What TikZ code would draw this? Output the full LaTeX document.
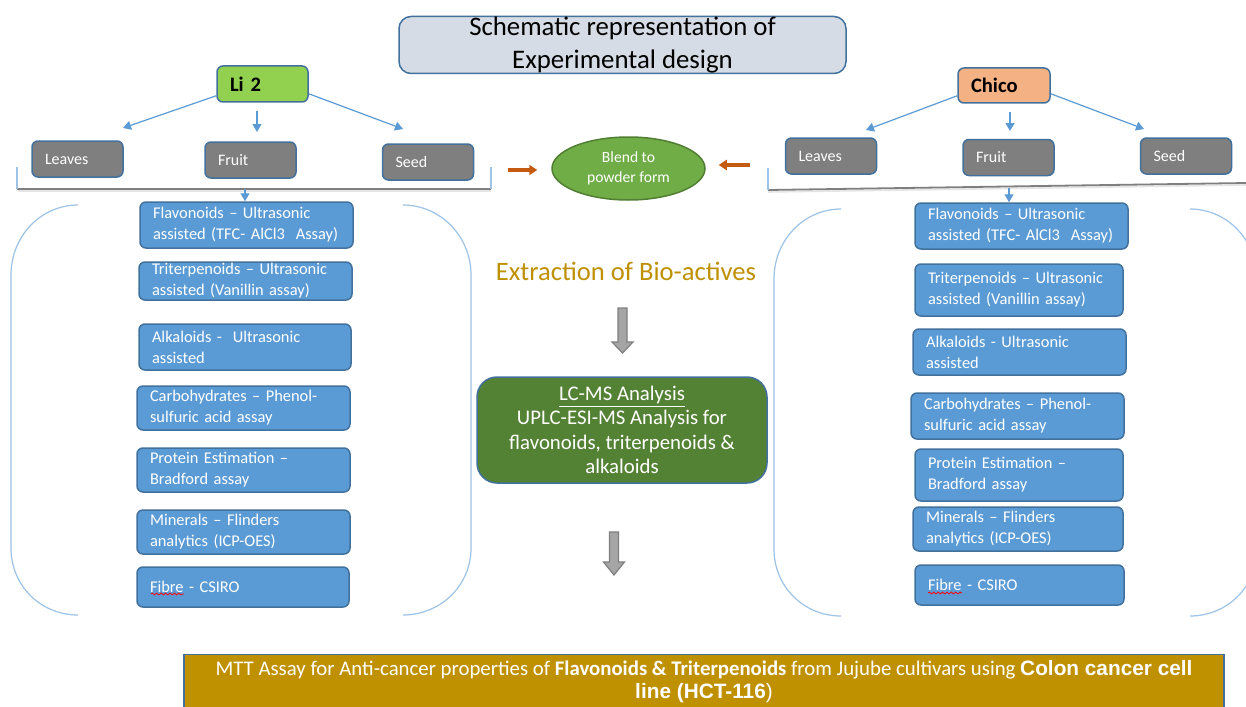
\documentclass[tikz,border=0pt]{standalone}
\usepackage{fontspec}
\setmainfont{Carlito}
\newfontfamily\arialf{Liberation Sans}
\usetikzlibrary{arrows.meta,shapes.geometric,decorations.pathmorphing}
\definecolor{bdr}{HTML}{41719C}
\definecolor{boxblue}{HTML}{5B9BD5}
\definecolor{boxgray}{HTML}{7F7F7F}
\definecolor{ltblue}{HTML}{9DC3E6}
\definecolor{arrblue}{HTML}{5B9BD5}
\definecolor{orng}{HTML}{C55A11}
\definecolor{gold}{HTML}{BF9000}
\definecolor{lcgreen}{HTML}{548235}
\definecolor{blendgreen}{HTML}{70AD47}
\definecolor{blendborder}{HTML}{507E32}
\definecolor{ligreen}{HTML}{92D050}
\definecolor{chicoorange}{HTML}{F4B183}
\definecolor{titlefill}{HTML}{D6DCE5}
\definecolor{blockgray}{HTML}{A5A5A5}
\begin{document}
\begin{tikzpicture}[x=0.5pt,y=-0.5pt,
  varbox/.style={draw=bdr, line width=0.75pt, rounded corners=3pt, align=left, inner xsep=6.5pt, inner ysep=0pt},
  graybox/.style={varbox, fill=boxgray, text=white, text width=32.5pt, minimum height=18pt, font=\fontsize{8}{10}\selectfont},
  bluebox/.style 2 args={varbox, fill=boxblue, text=white, text width=#1, minimum height=#2, font=\fontsize{8.2}{10.5}\selectfont},
  barrow/.style={draw=arrblue, line width=0.6pt, -{Triangle[length=4pt,width=4.5pt]}},
  oarrow/.style={draw=orng, line width=1.9pt, -{Triangle[length=4pt,width=5pt]}},
  ltline/.style={draw=ltblue, line width=0.6pt},
  grayline/.style={draw=boxgray, line width=0.9pt},
  shadowline/.style={draw=black!10, line width=0.8pt},
  garrow/.style={draw=boxgray, fill=blockgray, line width=0.6pt},
  squiggle/.style={draw=red, line width=0.4pt, decorate, decoration={snake, amplitude=0.45pt, segment length=2.2pt}}
]
\clip (0,0) rectangle (1246,706);
\fill[white] (0,0) rectangle (1246,706);

% title
\node[draw=bdr, fill=titlefill, line width=0.75pt, rounded corners=6pt, minimum width=223.5pt, minimum height=28.5pt, align=center, inner sep=0pt, font=\fontsize{13.4}{16.5}\selectfont] (title) at (622.5,45) {Schematic representation of\\Experimental design};

% cultivars
\node[varbox, fill=ligreen, text width=32.5pt, minimum height=18pt, font=\bfseries\fontsize{10.3}{12}\selectfont] (li2) at (262.5,84) {Li 2};
\node[varbox, fill=chicoorange, text width=33pt, minimum height=17.5pt, font=\bfseries\fontsize{10.3}{12}\selectfont] (chico) at (1004,85.5) {Chico};

% plant parts
\node[graybox] (lleaves) at (77.5,159) {Leaves};
\node[graybox] (lfruit) at (250.5,160) {Fruit};
\node[graybox] (lseed) at (428,162) {Seed};
\node[graybox] (rleaves) at (831,156) {Leaves};
\node[graybox] (rfruit) at (1008.5,157.5) {Fruit};
\node[graybox] (rseed) at (1186,156) {Seed};

% arrows from cultivars
\coordinate (la1) at (123,128);
\coordinate (la2s) at (257,111);
\coordinate (la2) at (257,132);
\coordinate (la3) at (403,129);
\draw[barrow] ([yshift=3.5pt]li2.south west) -- (la1);
\draw[barrow] (la2s) -- (la2);
\draw[barrow] ([yshift=4.5pt]li2.south east) -- (la3);
\coordinate (ra1) at (866,130);
\coordinate (ra2s) at (1010,112);
\coordinate (ra2) at (1010,131);
\coordinate (ra3) at (1144,129);
\draw[barrow] ([yshift=4pt]chico.south west) -- (ra1);
\draw[barrow] (ra2s) -- (ra2);
\draw[barrow] ([yshift=5pt]chico.south east) -- (ra3);

% square brackets under parts
\draw[shadowline] (18,191) -- (491,191);
\draw[grayline] (17,189) -- (491,189);
\draw[ltline] (17,167) -- (17,189);
\draw[ltline] (491,167) -- (491,189);
\draw[shadowline] (768,192) -- (1246,185);
\draw[grayline] (768,190) -- (1246,183);
\draw[ltline] (768,168) -- (768,190);

% blend
\node[ellipse, draw=blendborder, fill=blendgreen, line width=0.75pt, minimum width=76.5pt, minimum height=31.5pt, inner sep=0pt, text=white, align=center, font=\fontsize{7.8}{9.8}\selectfont] (blend) at (628.5,168.5) {Blend to\\powder form};
\coordinate (oa1) at (508,170);
\coordinate (oa2) at (750,165);
\draw[oarrow] (oa1) -- ([xshift=-7pt]blend.west |- oa1);
\draw[oarrow] (oa2) -- ([xshift=6.5pt]blend.east |- oa2);

% left analyses
\node[bluebox={93.5pt}{23pt}] (lf1) at (246.5,225) {Flavonoids -- Ultrasonic\\assisted (TFC- AlCl3~ Assay)};
\node[bluebox={93.5pt}{19pt}] (lf2) at (245.5,281) {Triterpenoids -- Ultrasonic\\assisted (Vanillin assay)};
\node[bluebox={93pt}{23pt}] (lf3) at (245,347) {Alkaloids -~ Ultrasonic\\assisted};
\node[bluebox={93.5pt}{22pt}] (lf4) at (243.5,408) {Carbohydrates -- Phenol-\\sulfuric acid assay};
\node[bluebox={93.5pt}{22pt}] (lf5) at (243.5,470) {Protein Estimation --\\Bradford assay};
\node[bluebox={93.5pt}{22pt}] (lf6) at (243.5,532) {Minerals -- Flinders\\analytics (ICP-OES)};
\node[bluebox={93pt}{20pt}] (lf7) at (243,587) {Fibre - CSIRO};
\draw[squiggle] (151,594) -- (184,594);

% right analyses
\node[bluebox={93.5pt}{23pt}] (rf1) at (1021.5,226) {Flavonoids -- Ultrasonic\\assisted (TFC- AlCl3~ Assay)};
\node[bluebox={91pt}{26pt}] (rf2) at (1019,290) {Triterpenoids -- Ultrasonic\\assisted (Vanillin assay)};
\node[bluebox={93.5pt}{23pt}] (rf3) at (1019.5,352) {Alkaloids - Ultrasonic\\assisted};
\node[bluebox={93.5pt}{23pt}] (rf4) at (1017.5,416) {Carbohydrates -- Phenol-\\sulfuric acid assay};
\node[bluebox={91pt}{26pt}] (rf5) at (1019,475) {Protein Estimation --\\Bradford assay};
\node[bluebox={92pt}{22pt}] (rf6) at (1018,529) {Minerals -- Flinders\\analytics (ICP-OES)};
\node[bluebox={91.5pt}{20pt}] (rf7) at (1019.5,585) {Fibre - CSIRO};
\draw[squiggle] (928,593) -- (962,593);

% arrows into first analyses
\coordinate (lbr) at (245,189);
\coordinate (rbr) at (1009,188);
\draw[barrow] (lbr) -- (lf1.north -| lbr);
\draw[barrow] (rbr) -- (rf1.north -| rbr);

% round brackets
\draw[ltline] (78,205) .. controls (41,205) and (11,236) .. (11,275) -- (11,548) .. controls (11,586) and (41,615) .. (78,615);
\draw[ltline] (403,205) .. controls (440,205) and (471,236) .. (471,275) -- (471,548) .. controls (471,586) and (440,615) .. (403,615);
\draw[ltline] (841,209) .. controls (804,209) and (774,240) .. (774,279) -- (774,549) .. controls (774,587) and (804,616) .. (841,616);
\draw[ltline] (1190,209) .. controls (1227,209) and (1257,240) .. (1257,279) -- (1257,549) .. controls (1257,587) and (1227,616) .. (1190,616);

% centre
\node[text=gold, inner sep=0pt, font=\fontsize{13.3}{16}\selectfont] (extr) at (626,271) {Extraction of Bio-actives};
\draw[garrow] (618,308) -- (627,308) -- (627,342) -- (633,342) -- (622.5,353) -- (612,342) -- (618,342) -- cycle;
\node[draw=bdr, fill=lcgreen, line width=0.75pt, rounded corners=10pt, minimum width=145pt, minimum height=53pt, text=white, align=center, inner sep=0pt, font=\fontsize{10.4}{12.25}\selectfont] (lcms) at (622,430) {\underline{LC-MS Analysis}\\UPLC-ESI-MS Analysis for\\flavonoids, triterpenoids \&\\alkaloids};
\draw[garrow] (609.5,532) -- (618.5,532) -- (618.5,562) -- (624.5,562) -- (614,575) -- (603.5,562) -- (609.5,562) -- cycle;

% bottom
\node[draw=bdr, fill=gold, line width=0.75pt, minimum width=520pt, minimum height=27.5pt, text=white, align=center, inner sep=0pt, font=\fontsize{10.4}{11.5}\selectfont] (mtt) at (704,682) {MTT Assay for Anti-cancer properties of \textbf{Flavonoids \& Triterpenoids} from Jujube cultivars using {\arialf\bfseries Colon cancer cell}\\{\arialf\bfseries line (HCT-116}{\arialf )}};
\end{tikzpicture}
\end{document}
